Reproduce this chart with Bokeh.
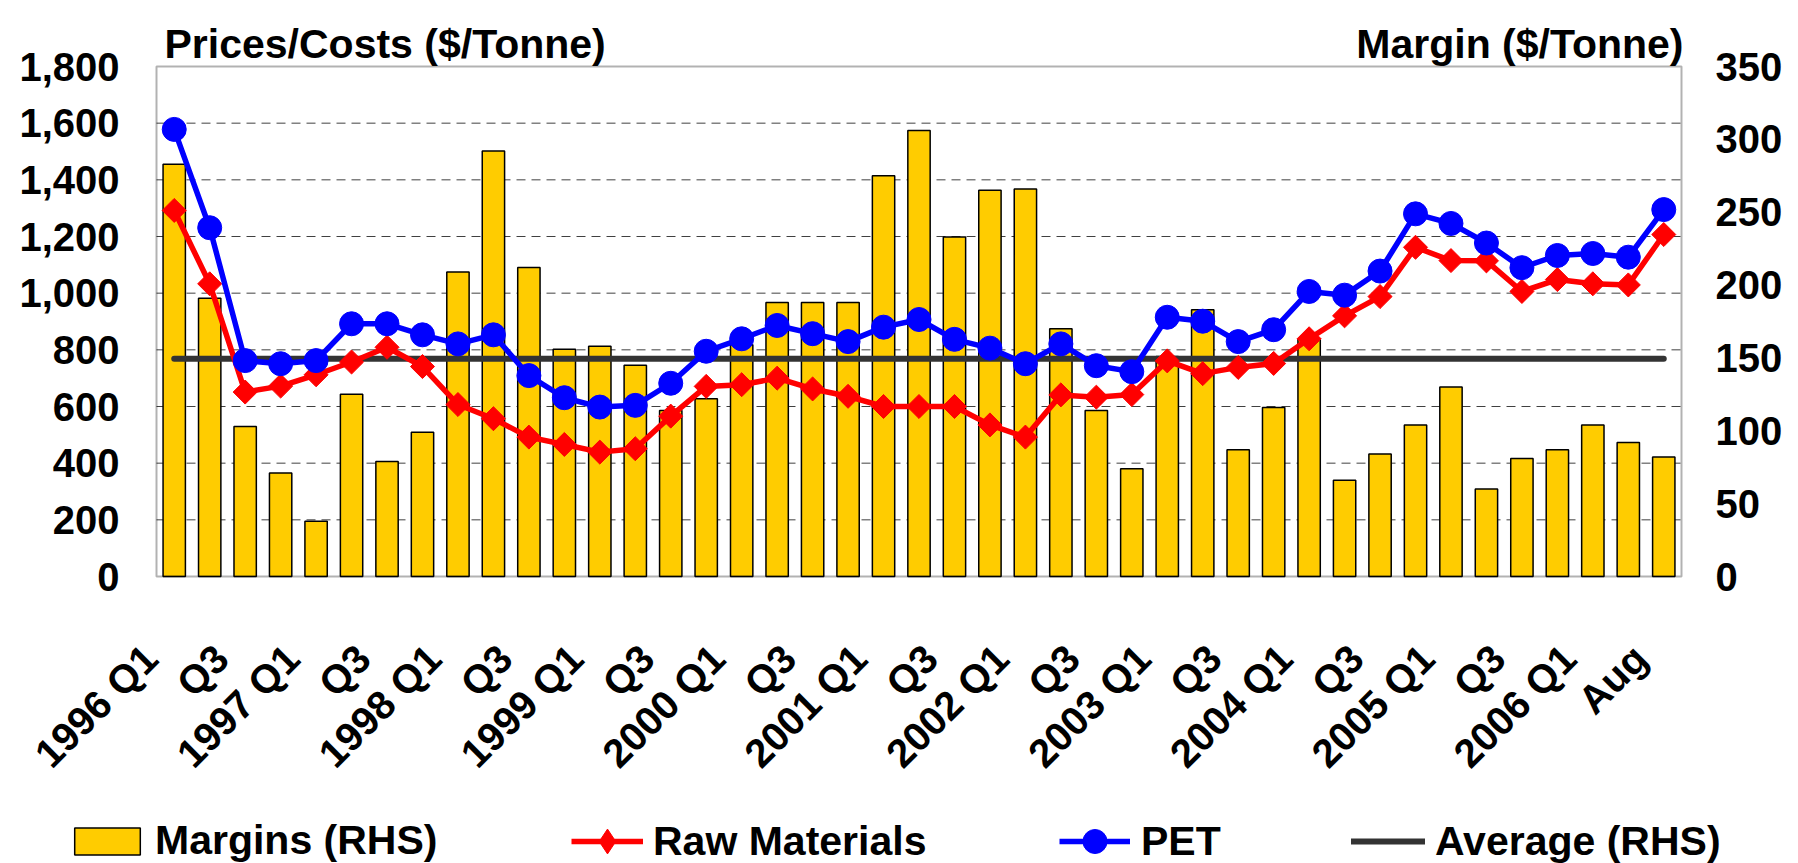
import math
import numpy as np
from bokeh.plotting import figure
from bokeh.models import (Range1d, LinearAxis, FixedTicker, NumeralTickFormatter,
                          Label, Legend, LegendItem, BoxAnnotation)
from bokeh.embed import file_html
from bokeh.resources import INLINE

# ---------------- data ----------------
categories = [
    "1996 Q1", "1996 Q2", "1996 Q3", "1996 Q4",
    "1997 Q1", "1997 Q2", "1997 Q3", "1997 Q4",
    "1998 Q1", "1998 Q2", "1998 Q3", "1998 Q4",
    "1999 Q1", "1999 Q2", "1999 Q3", "1999 Q4",
    "2000 Q1", "2000 Q2", "2000 Q3", "2000 Q4",
    "2001 Q1", "2001 Q2", "2001 Q3", "2001 Q4",
    "2002 Q1", "2002 Q2", "2002 Q3", "2002 Q4",
    "2003 Q1", "2003 Q2", "2003 Q3", "2003 Q4",
    "2004 Q1", "2004 Q2", "2004 Q3", "2004 Q4",
    "2005 Q1", "2005 Q2", "2005 Q3", "2005 Q4",
    "2006 Q1", "2006 Q2", "Aug",
]
tick_labels = [
    "1996 Q1", "Q3", "1997 Q1", "Q3", "1998 Q1", "Q3", "1999 Q1", "Q3",
    "2000 Q1", "Q3", "2001 Q1", "Q3", "2002 Q1", "Q3", "2003 Q1", "Q3",
    "2004 Q1", "Q3", "2005 Q1", "Q3", "2006 Q1", "Aug",
]
margins_rhs = [283, 191, 103, 71, 38, 125, 79, 99, 209, 292,
               212, 156, 158, 145, 114, 122, 159, 188, 188, 188,
               275, 306, 233, 265, 266, 170, 114, 74, 151, 183,
               87, 116, 163, 66, 84, 104, 130, 60, 81, 87,
               104, 92, 82]
raw_materials = [1292, 1033, 651, 672, 712, 757, 809, 741, 607, 557,
                 492, 466, 439, 451, 566, 671, 677, 700, 662, 636,
                 600, 600, 600, 535, 492, 641, 633, 642, 761, 716,
                 738, 752, 839, 920, 988, 1162, 1115, 1114, 1006, 1048,
                 1033, 1029, 1207]
pet = [1578, 1231, 762, 751, 762, 892, 892, 853, 821, 853,
       709, 631, 598, 604, 682, 795, 839, 886, 857, 829,
       880, 907, 837, 806, 751, 821, 744, 723, 915, 901,
       829, 871, 1006, 993, 1078, 1280, 1246, 1177, 1090, 1133,
       1140, 1127, 1295]
average_rhs = 149.4

left_ticks = [0, 200, 400, 600, 800, 1000, 1200, 1400, 1600, 1800]
right_ticks = [0, 50, 100, 150, 200, 250, 300, 350]

# ---------------- layout (pixels) ----------------
W, H = 1798, 863
BOX_L, BOX_R, BOX_T, BOX_B = 156, 1681, 66, 576   # plot box inside the canvas
n = len(categories)
x_lo_d, x_hi_d = -0.5, n - 0.5
xppu = (BOX_R - BOX_L) / (x_hi_d - x_lo_d)
x_start = x_lo_d - BOX_L / xppu
x_end = x_hi_d + (W - BOX_R) / xppu
y_lo_d, y_hi_d = left_ticks[0], left_ticks[-1]
yppu = (BOX_B - BOX_T) / (y_hi_d - y_lo_d)
y_start = y_lo_d - (H - BOX_B) / yppu
y_end = y_hi_d + BOX_T / yppu
r_scale = right_ticks[-1] / left_ticks[-1]

FONT = "Liberation Sans"
FS = "40px"
FS_T = "41px"
BAR = "#FFCC00"
RED = "#FF0000"
BLUE = "#0000FF"
AVG = "#333333"

xs = list(range(n))

p = figure(width=W, height=H, output_backend="svg", toolbar_location=None,
           x_range=Range1d(x_start, x_end), y_range=Range1d(y_start, y_end),
           min_border=0, min_border_left=0, min_border_right=0,
           min_border_top=0, min_border_bottom=0)
p.background_fill_color = "white"
p.border_fill_color = "white"
p.outline_line_color = None
p.xgrid.visible = False
p.ygrid.visible = False
p.extra_y_ranges = {"rhs": Range1d(y_start * r_scale, y_end * r_scale)}

def style_axis(ax, standoff):
    ax.axis_line_color = None
    ax.major_tick_line_color = None
    ax.minor_tick_line_color = None
    ax.major_tick_out = 0
    ax.major_tick_in = 0
    ax.minor_tick_out = 0
    ax.minor_tick_in = 0
    ax.major_label_text_font = FONT
    ax.major_label_text_font_size = FS
    ax.major_label_text_font_style = "bold"
    ax.major_label_text_color = "black"
    ax.major_label_standoff = standoff

# left axis (fixed on the left edge of the plot box)
yax = p.yaxis[0]
yax.ticker = FixedTicker(ticks=left_ticks)
yax.formatter = NumeralTickFormatter(format="0,0")
yax.fixed_location = x_lo_d
style_axis(yax, 37)

# right axis
rax = LinearAxis(y_range_name="rhs", ticker=FixedTicker(ticks=right_ticks),
                 fixed_location=x_hi_d)
style_axis(rax, 34)
p.add_layout(rax, "right")

# x axis (every other category labelled)
label_idx = list(range(0, n, 2))
tick_pos = [round(i - 0.67, 2) for i in label_idx]
xax = p.xaxis[0]
xax.ticker = FixedTicker(ticks=tick_pos)
xax.major_label_overrides = {t: lab for t, lab in zip(tick_pos, tick_labels)}
xax.major_label_orientation = math.pi / 4
xax.fixed_location = y_lo_d
style_axis(xax, 75)

# dashed gridlines inside the plot box
p.segment(x0=x_lo_d, x1=x_hi_d, y0=left_ticks[1:-1], y1=left_ticks[1:-1],
          line_color="#404040", line_width=1, line_dash="9 6", level="underlay")

# glyphs
bars = p.vbar(x=xs, top=margins_rhs, width=0.63, y_range_name="rhs",
              fill_color=BAR, line_color="black", line_width=1.5)
avg_line = p.line(x=[xs[0], xs[-1]], y=[average_rhs, average_rhs], y_range_name="rhs",
                  line_color=AVG, line_width=6, line_cap="round")
raw_line = p.line(x=xs, y=raw_materials, line_color=RED, line_width=5.5)
raw_pts = p.scatter(x=xs, y=raw_materials, marker="square", angle=math.pi / 4,
                    size=17, fill_color=RED, line_color=RED)
pet_line = p.line(x=xs, y=pet, line_color=BLUE, line_width=5.5)
pet_pts = p.scatter(x=xs, y=pet, marker="circle", size=24,
                    fill_color=BLUE, line_color=BLUE)
# legend key for the diamonds (legend swatches ignore marker rotation);
# it holds one undefined point so nothing is drawn in the plot itself
raw_key = p.scatter(x=np.array([np.nan]), y=np.array([np.nan]), marker="diamond",
                    size=24, fill_color=RED, line_color=RED)

# plot-box border
p.add_layout(BoxAnnotation(left=x_lo_d, right=x_hi_d, bottom=y_lo_d, top=y_hi_d,
                           fill_alpha=0, line_color="black", line_width=2))

# titles
p.add_layout(Label(x=164, y=H - 43.5, x_units="screen", y_units="screen",
                   text="Prices/Costs ($/Tonne)", text_font=FONT, text_font_size=FS_T,
                   text_font_style="bold", text_color="black",
                   text_baseline="alphabetic", text_align="left"))
p.add_layout(Label(x=1683, y=H - 43.5, x_units="screen", y_units="screen",
                   text="Margin ($/Tonne)", text_font=FONT, text_font_size=FS_T,
                   text_font_style="bold", text_color="black",
                   text_baseline="alphabetic", text_align="right"))

# legends (one per entry, placed where the original puts them)
def add_legend(item, loc, gw, gh, standoff):
    lg = Legend(items=[item], location=loc, orientation="horizontal",
                glyph_width=gw, glyph_height=gh, label_standoff=standoff,
                padding=0, margin=0, spacing=0,
                border_line_color=None, background_fill_alpha=0,
                label_text_font=FONT, label_text_font_size=FS_T,
                label_text_font_style="bold", label_text_color="black")
    p.add_layout(lg, "center")

add_legend(LegendItem(label="Margins (RHS)", renderers=[bars]), (66, -1), 82, 34, 7)
add_legend(LegendItem(label="Raw Materials", renderers=[raw_line, raw_key]), (571, -9), 72, 62, 10)
add_legend(LegendItem(label="PET", renderers=[pet_line, pet_pts]), (1059, -8), 71, 60, 11)
add_legend(LegendItem(label="Average (RHS)", renderers=[avg_line]), (1351, -2), 74, 48, 10)

open("out.html", "w").write(file_html(p, INLINE))
